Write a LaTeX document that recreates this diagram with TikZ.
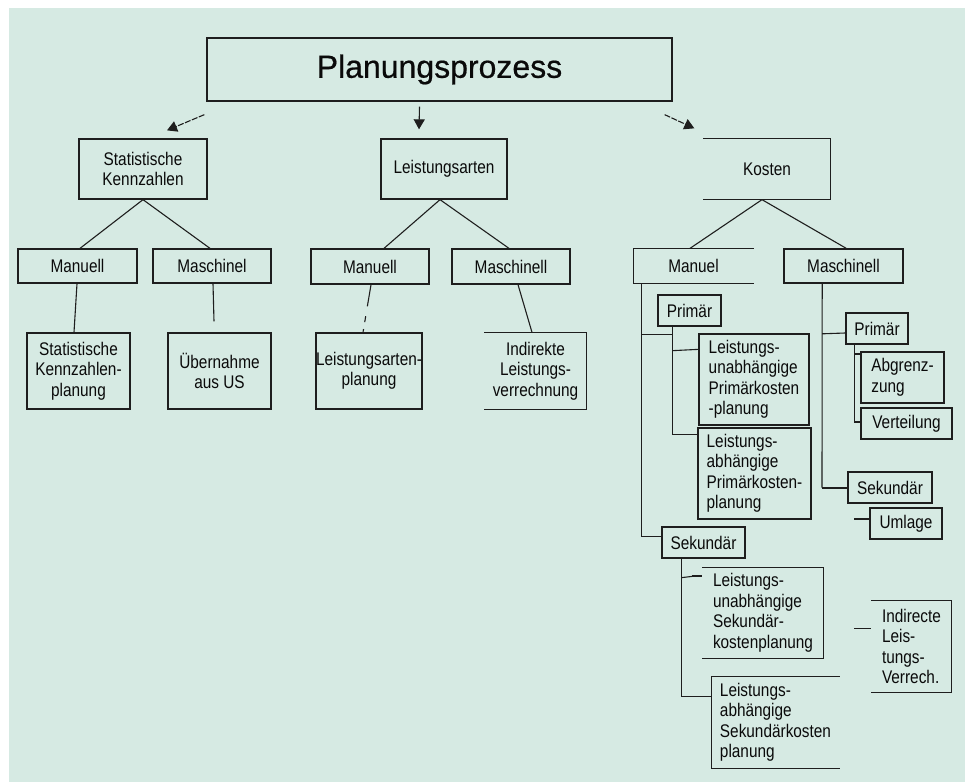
\documentclass[tikz,border=0pt]{standalone}
\usepackage{fontspec}
\setmainfont{Liberation Sans}
\newfontfamily\narrowfont{Liberation Sans}[FakeStretch=0.84]
\newfontfamily\titlefont{Liberation Sans}[FakeBold=0.6]
\usetikzlibrary{calc,arrows.meta}
\definecolor{bg}{RGB}{214,234,227}
\definecolor{linec}{RGB}{30,30,30}
\definecolor{txtc}{RGB}{10,10,10}
\newcommand{\boxfont}{\narrowfont\fontsize{18.3}{20.5}\selectfont}
\begin{document}
\begin{tikzpicture}[x=1pt,y=-1pt,
  box/.style={draw=linec, line width=1.3pt, inner sep=0pt, font=\boxfont, text=txtc, align=center},
  lbox/.style={box, align=left},
  thickbox/.style={box, line width=2pt},
  openbox/.style={box, draw=none},
  conn/.style={draw=linec, line width=1.1pt},
  thickconn/.style={draw=linec, line width=2pt},
  arr/.style={conn, -{Triangle[length=10pt,width=11pt]}},
  dasharr/.style={arr, dash pattern=on 6pt off 1.5pt},
  side/.style={draw=linec, line width=1.3pt}]
\useasboundingbox (0,0) rectangle (965,782);
\fill[bg] (9,8) rectangle (965,782);

% title
\node[box, minimum width=465pt, minimum height=63pt, font=\titlefont\fontsize{32}{38}\selectfont] (title) at (439.5,69.5) {Planungsprozess};

% level 1
\node[box, minimum width=128pt, minimum height=60pt] (stat) at (143,169) {Statistische\\Kennzahlen};
\node[box, minimum width=126pt, minimum height=60pt] (leist) at (444,169) {Leistungsarten};
\node[openbox, minimum width=126pt, minimum height=60pt] (kosten) at (767,169) {Kosten};
\draw[side] (kosten.north west) -- (kosten.north east) -- (kosten.south east) -- (kosten.south west);

% arrows
\draw[dasharr] ($(title.south west)+(-2,13)$) -- ($(stat.north)+(24,-8)$);
\draw[arr] ($(title.south)+(-20,5)$) -- ($(leist.north)+(-25,-9)$);
\draw[dasharr] ($(title.south east)+(-8,13)$) -- ($(kosten.north west)+(-9,-10)$);

% level 2
\node[box, minimum width=119pt, minimum height=34pt] (sm) at (77.5,266) {Manuell};
\node[box, minimum width=118pt, minimum height=34pt] (sk) at (212,266) {Maschinel};
\node[box, minimum width=118pt, minimum height=35pt] (lm) at (370,266.5) {Manuell};
\node[box, minimum width=118pt, minimum height=35pt] (lk) at (511,266.5) {Maschinell};
\node[openbox, minimum width=119pt, minimum height=34pt] (km) at (693.5,266) {Manuel};
\draw[side] (km.north east) -- (km.north west) -- (km.south west) -- (km.south east);
\node[box, line width=1.6pt, minimum width=119pt, minimum height=34pt] (kk) at (843.5,266) {Maschinell};

\draw[conn] (stat.south) -- ($(sm.north)+(2.5,0)$);
\draw[conn] (stat.south) -- ($(sk.north)+(-2,0)$);
\draw[conn] ($(leist.south)+(-4,0)$) -- ($(lm.north)+(14,0)$);
\draw[conn] ($(leist.south)+(-4,0)$) -- ($(lk.north)+(-2,0)$);
\draw[conn] ($(kosten.south)+(-5,0)$) -- ($(km.north)+(-3.5,0)$);
\draw[conn] ($(kosten.south)+(-5,0)$) -- ($(kk.north)+(2.5,0)$);

% level 3 left / middle
\node[box, minimum width=103pt, minimum height=76pt] (s1) at (78.5,371) {Statistische\\Kennzahlen-\\planung};
\node[box, minimum width=103pt, minimum height=76pt] (s2) at (219.5,371) {Übernahme\\aus US};
\node[box, minimum width=102pt, minimum height=76pt] (l1) at (369,371) {Leistungsarten-\\planung};
\node[openbox, minimum width=101pt, minimum height=76pt] (l2) at (535.5,371) {Indirekte\\Leistungs-\\verrechnung};
\draw[side] (l2.north west) -- (l2.north east) -- (l2.south east) -- (l2.south west);

\draw[conn] ($(sm.south)+(-0.5,0)$) -- ($(s1.north)+(-4.5,0)$);
\draw[conn] ($(sk.south)+(1,0)$) -- ($(s2.north)+(-5.5,-11)$);
\draw[conn, dash pattern=on 22pt off 10pt on 6pt off 7pt on 4pt] ($(lm.south)+(1,0)$) -- ($(l1.north)+(-6,0)$);
\draw[conn] ($(lk.south)+(7,0)$) -- ($(l2.north)+(-3.5,0)$);

% Kosten / Manuel subtree
\node[box, minimum width=63pt, minimum height=31pt] (p1) at (689.5,310.5) {Primär};
\node[lbox, minimum width=110pt, minimum height=91pt] (p1a) at (754,379.5) {Leistungs-\\unabhängige\\Primärkosten\\-planung};
\node[lbox, minimum width=113pt, minimum height=91pt] (p1b) at (754.5,473.5) {Leistungs-\\abhängige\\Primärkosten-\\planung};
\node[box, minimum width=83pt, minimum height=31pt] (sek1) at (703.5,542.5) {Sekundär};
\node[openbox, align=left, minimum width=120pt, minimum height=90pt] (sa) at (763,613) {Leistungs-\\unabhängige\\Sekundär-\\kostenplanung};
\draw[side] (sa.north west) -- (sa.north east) -- (sa.south east) -- (sa.south west);
\node[openbox, align=left, minimum width=127pt, minimum height=91pt] (sb) at (775.5,722.5) {Leistungs-\\abhängige\\Sekundärkosten\\planung};
\draw[side] (sb.north east) -- (sb.north west) -- (sb.south west) -- (sb.south east);
\node[openbox, align=left, minimum width=79pt, minimum height=91pt] (ind) at (911.5,646.5) {Indirecte\\Leis-\\tungs-\\Verrech.};
\draw[side] (ind.north west) -- (ind.north east) -- (ind.south east) -- (ind.south west);

\draw[conn] ($(km.south west)+(8,0)$) |- ($(sek1.west)+(0,-6)$);
\draw[conn] ($(km.south west)+(8,51)$) -- ($(p1.south west)+(15,8)$);
\draw[conn] ($(p1.south west)+(15,0)$) |- ($(p1b.north west)+(0,7)$);
\draw[conn] ($(p1.south west)+(15,24)$) -- ($(p1a.north west)+(0,16)$);
\draw[conn] ($(sek1.south west)+(20,0)$) |- ($(sb.north west)+(0,20)$);
\draw[conn] ($(sek1.south west)+(20,19)$) -- ($(sa.north west)+(-10,9)$);
\draw[thickconn] ($(sa.north west)+(-10,9)$) -- ($(sa.north west)+(0,9)$);
\draw[conn] ($(ind.north west)+(-17,28)$) -- ($(ind.north west)+(0,28)$);

% Kosten / Maschinell subtree
\node[box, line width=1.8pt, minimum width=62pt, minimum height=31pt] (p2) at (877,328.5) {Primär};
\node[thickbox, align=left, minimum width=83pt, minimum height=51pt] (ab) at (902.5,377.5) {Abgrenz-\\zung};
\node[box, line width=1.8pt, minimum width=91pt, minimum height=31pt] (ve) at (906.5,423.5) {Verteilung};
\node[thickbox, minimum width=84pt, minimum height=31pt] (s2r) at (890,487.5) {Sekundär};
\node[thickbox, minimum width=72pt, minimum height=31pt] (um) at (906,523.5) {Umlage};

\draw[conn] ($(kk.south west)+(39,0)$) -- ($(s2r.west)+(-25,0)$);
\draw[thickconn] ($(s2r.west)+(-25,0)$) -- (s2r.west);
\draw[conn] ($(kk.south west)+(39,50)$) -- ($(p2.west)+(0,4.5)$);
\draw[conn] ($(p2.south west)+(9,0)$) |- ($(ve.west)+(0,-1.5)$);
\draw[conn] ($(ab.north west)+(-6,3)$) -- ($(ab.north west)+(0,3)$);
\draw[conn] ($(um.west)+(-15,-4.5)$) -- ($(um.west)+(0,-4.5)$);
\end{tikzpicture}
\end{document}
